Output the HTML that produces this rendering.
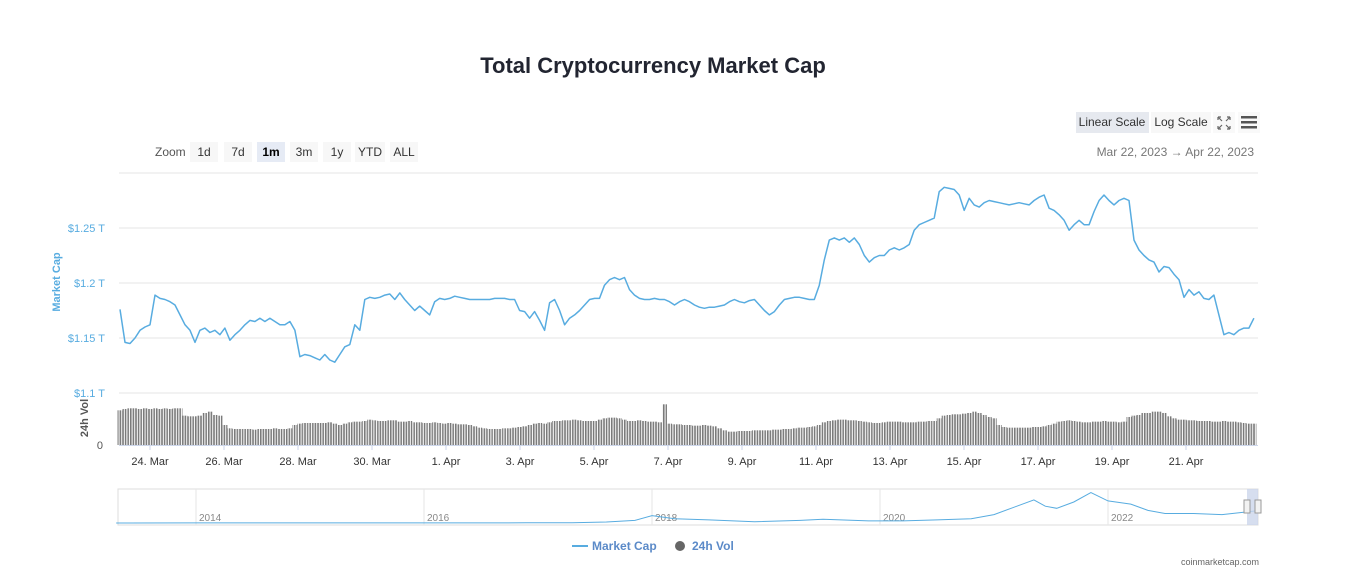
<!DOCTYPE html>
<html><head><meta charset="utf-8">
<style>
body{margin:0;background:#fff;font-family:"Liberation Sans",sans-serif;}
#wrap{position:relative;width:1364px;height:583px;overflow:hidden;}
svg text{font-family:"Liberation Sans",sans-serif;}
</style></head>
<body>
<div id="wrap">
<svg id="chart" width="1364" height="583" xmlns="http://www.w3.org/2000/svg">
<defs>
<pattern id="stripes" patternUnits="userSpaceOnUse" width="2.6" height="10"><rect x="0" y="0" width="1.6" height="10" fill="#7a7a7a"/></pattern>
</defs>
<text x="653" y="73" text-anchor="middle" font-size="22" font-weight="bold" fill="#222531">Total Cryptocurrency Market Cap</text>

<g>
<text x="155" y="156" font-size="12" fill="#555">Zoom</text>
<g><rect x="190" y="142" width="28" height="20" fill="#f7f7f7"/><text x="204" y="156" font-size="12" text-anchor="middle" fill="#333">1d</text></g>
<g><rect x="224" y="142" width="28" height="20" fill="#f7f7f7"/><text x="238" y="156" font-size="12" text-anchor="middle" fill="#333">7d</text></g>
<g><rect x="257" y="142" width="28" height="20" fill="#e6ebf5"/><text x="271" y="156" font-size="12" text-anchor="middle" font-weight="bold" fill="#000">1m</text></g>
<g><rect x="290" y="142" width="28" height="20" fill="#f7f7f7"/><text x="304" y="156" font-size="12" text-anchor="middle" fill="#333">3m</text></g>
<g><rect x="323" y="142" width="28" height="20" fill="#f7f7f7"/><text x="337" y="156" font-size="12" text-anchor="middle" fill="#333">1y</text></g>
<g><rect x="355" y="142" width="30" height="20" fill="#f7f7f7"/><text x="370" y="156" font-size="12" text-anchor="middle" fill="#333">YTD</text></g>
<g><rect x="390" y="142" width="28" height="20" fill="#f7f7f7"/><text x="404" y="156" font-size="12" text-anchor="middle" fill="#333">ALL</text></g>
</g>

<g>
<g><rect x="1076" y="112" width="73" height="21" fill="#e6e9ef"/><text x="1112" y="126" font-size="12" text-anchor="middle" fill="#333">Linear Scale</text></g>
<g><rect x="1151" y="112" width="60" height="21" fill="#f7f7f7"/><text x="1181" y="126" font-size="12" text-anchor="middle" fill="#333">Log Scale</text></g>
<g stroke="#666" stroke-width="1.2" fill="none"><rect x="1213" y="112" width="22" height="21" fill="#f9f9f9" stroke="none"/><path d="M1218 117l4 4M1218 117h3M1218 117v3M1230 117l-4 4M1230 117h-3M1230 117v3M1218 129l4-4M1218 129h3M1218 129v-3M1230 129l-4-4M1230 129h-3M1230 129v-3"/></g>
<g><rect x="1238" y="112" width="22" height="21" fill="#f9f9f9"/><rect x="1241" y="116" width="16" height="2.5" fill="#555"/><rect x="1241" y="121" width="16" height="2.5" fill="#555"/><rect x="1241" y="126" width="16" height="2.5" fill="#555"/></g>
<text x="1254" y="156" font-size="12" text-anchor="end" fill="#777">Mar 22, 2023  →  Apr 22, 2023</text>
</g>

<g id="grid"></g>
<g id="yaxis"></g>
<text transform="translate(60,282) rotate(-90)" text-anchor="middle" font-size="11" font-weight="bold" fill="#58ace0">Market Cap</text>
<text transform="translate(88,418) rotate(-90)" text-anchor="middle" font-size="11" font-weight="bold" fill="#555">24h Vol</text>
<text x="103" y="449" text-anchor="end" font-size="11" fill="#555">0</text>
<g id="vol"></g>
<path id="line" fill="none" stroke="#58ace0" stroke-width="1.5" stroke-linejoin="round"/>
<g id="xaxis"></g>

<g>
<rect x="118" y="489" width="1140" height="36" fill="none" stroke="#ddd"/>
<g id="navgrid"></g>
<path id="navline" fill="none" stroke="#58ace0" stroke-width="1"/>
<rect x="1247" y="489" width="11" height="36" fill="#ccd6eb" fill-opacity="0.8"/>
<rect x="1244" y="500" width="6" height="13" fill="#f2f2f2" stroke="#999"/>
<rect x="1255" y="500" width="6" height="13" fill="#f2f2f2" stroke="#999"/>
</g>

<g>
<g><line x1="572" y1="546" x2="588" y2="546" stroke="#58ace0" stroke-width="2"/><text x="592" y="550" font-size="12" font-weight="bold" fill="#5b8ac8">Market Cap</text></g>
<g><circle cx="680" cy="546" r="5" fill="#666"/><text x="692" y="550" font-size="12" font-weight="bold" fill="#5b8ac8">24h Vol</text></g>
</g>
<text x="1259" y="565" text-anchor="end" font-size="9" fill="#666">coinmarketcap.com</text>
</svg>
</div>
<script>
// Market cap in billions USD, evenly spaced samples
const capValues = [1176,1146,1145,1150,1157,1160,1162,1189,1186,1185,1183,1180,1171,1162,1157,1146,1157,1159,1155,1157,1153,1159,1148,1153,1157,1162,1166,1165,1168,1165,1168,1165,1162,1162,1165,1157,1133,1135,1134,1132,1130,1135,1130,1128,1135,1142,1144,1162,1157,1185,1187,1186,1187,1189,1190,1185,1191,1185,1180,1175,1179,1175,1171,1183,1186,1185,1186,1188,1187,1186,1185,1185,1185,1185,1185,1186,1186,1186,1185,1185,1175,1174,1168,1174,1166,1157,1182,1185,1175,1162,1168,1171,1175,1180,1185,1186,1186,1198,1203,1205,1203,1205,1194,1189,1186,1185,1185,1186,1185,1185,1183,1180,1183,1185,1183,1180,1178,1177,1178,1178,1179,1180,1183,1185,1183,1182,1184,1185,1180,1175,1171,1174,1180,1185,1186,1187,1187,1186,1185,1185,1198,1221,1239,1241,1239,1241,1237,1241,1235,1225,1219,1223,1225,1225,1230,1232,1230,1232,1235,1248,1253,1255,1257,1259,1283,1287,1286,1285,1280,1266,1277,1271,1269,1273,1275,1274,1273,1272,1271,1272,1273,1272,1271,1275,1278,1280,1268,1266,1262,1257,1248,1253,1257,1253,1253,1265,1275,1280,1275,1271,1275,1277,1275,1239,1230,1225,1221,1219,1210,1215,1214,1208,1203,1187,1194,1189,1192,1186,1185,1189,1171,1153,1155,1153,1157,1159,1159,1168];
// 24h volume in billions USD, same timestamps
const volValues = [52,54,55,55,54,55,54,55,54,55,54,55,55,44,43,43,44,48,50,45,44,30,25,24,24,24,24,23,24,24,24,25,24,24,25,30,32,33,33,33,33,33,34,32,30,32,34,35,35,36,38,37,36,36,37,37,35,35,36,34,34,33,33,34,33,32,33,32,31,31,30,28,26,25,24,24,24,25,25,26,27,28,30,32,33,32,34,36,36,37,37,38,37,36,36,36,38,40,41,41,40,38,36,36,37,36,35,35,34,61,32,31,31,30,30,29,29,30,29,28,25,22,20,20,21,21,21,22,22,22,22,23,23,24,24,25,26,26,27,28,30,34,36,37,38,38,37,37,36,35,34,33,33,34,35,35,35,34,34,34,35,35,36,36,40,44,45,46,46,47,48,50,48,45,42,40,30,27,26,26,26,26,26,27,27,28,30,32,35,36,37,36,35,34,34,35,35,36,35,35,34,35,42,44,45,48,48,50,50,48,43,40,38,38,37,37,36,36,36,35,35,36,35,35,34,33,32,32];
const startDay = -0.81;   // days relative to 24 Mar 00:00
const stepDay = 0.135;
const yTicks = [1100,1150,1200,1250,1300];
const yTickLabels = ["$1.1 T","$1.15 T","$1.2 T","$1.25 T",""];
const xTickDays = [0,2,4,6,8,10,12,14,16,18,20,22,24,26,28];
const xTickLabels = ["24. Mar","26. Mar","28. Mar","30. Mar","1. Apr","3. Apr","5. Apr","7. Apr","9. Apr","11. Apr","13. Apr","15. Apr","17. Apr","19. Apr","21. Apr"];
const navYears = [2013.3,2014,2015,2016,2016.9,2017.3,2017.6,2017.85,2018.0,2018.2,2018.5,2018.9,2019.3,2019.5,2019.9,2020.2,2020.5,2020.8,2021.0,2021.15,2021.35,2021.45,2021.55,2021.7,2021.85,2022.0,2022.2,2022.35,2022.5,2022.75,2023.0,2023.3];
const navVals = [0.002,0.01,0.005,0.007,0.02,0.03,0.1,0.25,0.7,0.4,0.3,0.12,0.25,0.35,0.2,0.2,0.3,0.4,0.8,1.4,2.2,1.6,1.4,2.0,2.9,2.1,1.8,1.2,0.9,0.9,0.8,1.15];
const navTickYears = [2014,2016,2018,2020,2022];

const NS = "http://www.w3.org/2000/svg";
const xOf = d => 150 + 37 * d;
const yOf = v => 228 - (v - 1250) * 1.1;
const vOf = v => 445 - v * 0.667;
const nxOf = yr => 196 + (yr - 2014) * 114;
const nyOf = v => 523 - v * 10.5;
function mk(tag, attrs, parent){const e=document.createElementNS(NS,tag);for(const k in attrs)e.setAttribute(k,attrs[k]);parent.appendChild(e);return e;}

const grid = document.getElementById('grid'), yaxis = document.getElementById('yaxis');
yTicks.forEach((t,i)=>{
  const l = mk('line',{x1:119,x2:1258,y1:yOf(t),y2:yOf(t),stroke:'#e6e6e6'},grid);
  
  
  if (yTickLabels[i]) {
    const tx = mk('text',{x:105,y:yOf(t)+4,'text-anchor':'end','font-size':11,fill:'#58ace0'},yaxis);
    tx.textContent = yTickLabels[i];
    
    
  }
});
const bl = mk('line',{x1:119,x2:1258,y1:445.5,y2:445.5,stroke:'#ccd6eb'},grid);



const vol = document.getElementById('vol');
volValues.forEach((v,i)=>{
  const x = xOf(startDay + i*stepDay);
  const r = mk('rect',{x:x-2.5,y:vOf(v),width:5,height:445-vOf(v),fill:'url(#stripes)'},vol);
  
  
});

let d='';
capValues.forEach((v,i)=>{d += (i?'L':'M') + xOf(startDay+i*stepDay).toFixed(1) + ' ' + yOf(v).toFixed(1);});
document.getElementById('line').setAttribute('d', d);

const xaxis = document.getElementById('xaxis');
xTickDays.forEach((t,i)=>{
  const x = xOf(t);
  const tk = mk('line',{x1:x,x2:x,y1:445,y2:450,stroke:'#ccd6eb'},xaxis);
  
  
  const tx = mk('text',{x:x,y:465,'text-anchor':'middle','font-size':11,fill:'#333'},xaxis);
  tx.textContent = xTickLabels[i];
  
  
});

const ng = document.getElementById('navgrid');
navTickYears.forEach(y=>{
  const x = nxOf(y);
  const l = mk('line',{x1:x,x2:x,y1:489,y2:525,stroke:'#e6e6e6'},ng);
  
  
  const tx = mk('text',{x:x+3,y:521,'font-size':10,fill:'#888'},ng);
  tx.textContent = String(y);
  
  
});
let nd='';
navYears.forEach((y,i)=>{nd += (i?'L':'M') + nxOf(y).toFixed(1) + ' ' + nyOf(navVals[i]).toFixed(1);});
document.getElementById('navline').setAttribute('d', nd);
</script>
</body></html>
